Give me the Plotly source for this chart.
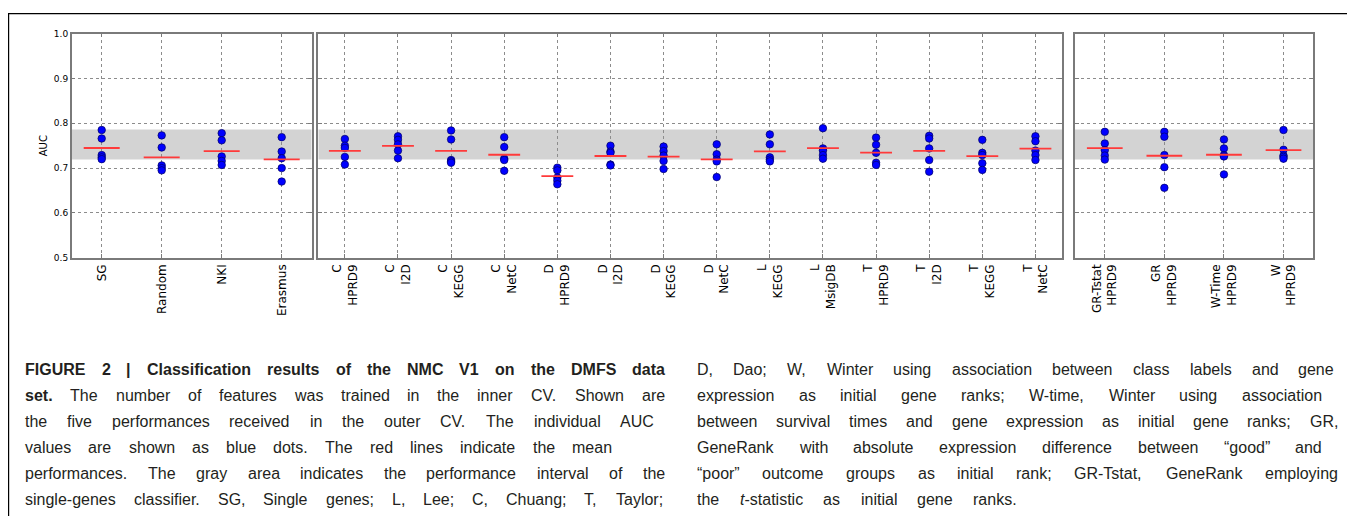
import re
import plotly.graph_objects as go

W, H = 1355, 516
OFF = 8                      # page body margin in the browser
FW, FH = W - OFF, H - OFF    # figure size


def px2x(px):
    return (px - OFF) / FW


def py2y(py):
    return 1 - (py - OFF) / FH


# ---------------- data ----------------
panel1_labels = ["SG", "Random", "NKI", "Erasmus"]
panel1_values = [
    [0.785, 0.766, 0.729, 0.724, 0.720],   # SG
    [0.773, 0.746, 0.706, 0.700, 0.695],   # Random
    [0.778, 0.762, 0.726, 0.716, 0.707],   # NKI
    [0.769, 0.737, 0.722, 0.700, 0.670],   # Erasmus
]
panel2_labels = ["C<br>HPRD9", "C<br>I2D", "C<br>KEGG", "C<br>NetC",
                 "D<br>HPRD9", "D<br>I2D", "D<br>KEGG", "D<br>NetC",
                 "L<br>KEGG", "L<br>MsigDB", "T<br>HPRD9", "T<br>I2D",
                 "T<br>KEGG", "T<br>NetC"]
panel2_values = [
    [0.765, 0.750, 0.745, 0.725, 0.708],   # C HPRD9
    [0.771, 0.763, 0.753, 0.739, 0.722],   # C I2D
    [0.784, 0.764, 0.718, 0.715, 0.712],   # C KEGG
    [0.769, 0.747, 0.721, 0.718, 0.694],   # C NetC
    [0.701, 0.695, 0.679, 0.672, 0.664],   # D HPRD9
    [0.750, 0.737, 0.734, 0.708, 0.706],   # D I2D
    [0.748, 0.738, 0.728, 0.716, 0.698],   # D KEGG
    [0.753, 0.731, 0.719, 0.715, 0.680],   # D NetC
    [0.775, 0.753, 0.724, 0.719, 0.715],   # L KEGG
    [0.789, 0.744, 0.739, 0.729, 0.721],   # L MsigDB
    [0.768, 0.752, 0.734, 0.712, 0.707],   # T HPRD9
    [0.772, 0.766, 0.744, 0.718, 0.692],   # T I2D
    [0.763, 0.734, 0.729, 0.711, 0.696],   # T KEGG
    [0.771, 0.760, 0.739, 0.729, 0.718],   # T NetC
]
panel3_labels = ["GR-Tstat<br>HPRD9", "GR<br>HPRD9", "W-Time<br>HPRD9", "W<br>HPRD9"]
panel3_values = [
    [0.781, 0.755, 0.740, 0.728, 0.719],   # GR-Tstat HPRD9
    [0.781, 0.770, 0.729, 0.702, 0.656],   # GR HPRD9
    [0.764, 0.744, 0.729, 0.726, 0.686],   # W-Time HPRD9
    [0.785, 0.741, 0.728, 0.725, 0.721],   # W HPRD9
]
single_gene_low = 0.719
single_gene_high = 0.786
y_ticks = [0.5, 0.6, 0.7, 0.8, 0.9, 1.0]

caption_left = [
    "<b>FIGURE 2 | Classification results of the NMC V1 on the DMFS data</b>",
    "<b>set.</b> The number of features was trained in the inner CV. Shown are",
    "the five performances received in the outer CV. The individual AUC",
    "values are shown as blue dots. The red lines indicate the mean",
    "performances. The gray area indicates the performance interval of the",
    "single-genes classifier. SG, Single genes; L, Lee; C, Chuang; T, Taylor;",
]
caption_right = [
    "D, Dao; W, Winter using association between class labels and gene",
    "expression as initial gene ranks; W-time, Winter using association",
    "between survival times and gene expression as initial gene ranks; GR,",
    "GeneRank with absolute expression difference between \u201cgood\u201d and",
    "\u201cpoor\u201d outcome groups as initial rank; GR-Tstat, GeneRank employing",
    "the <i>t</i>-statistic as initial gene ranks.",
]

# ---------------- layout geometry (page pixels) ----------------
panel_px = [(71.7, 311.7), (318.3, 1062.0), (1075.0, 1313.3)]
plot_top_px, plot_bottom_px = 29.0, 257.7
ydom = [py2y(plot_bottom_px), py2y(plot_top_px)]

fig = go.Figure()
panels = [(panel1_labels, panel1_values), (panel2_labels, panel2_values),
          (panel3_labels, panel3_values)]

axis_font = dict(family="DejaVu Sans, sans-serif", size=12, color="#000000")
for k, (labels, values) in enumerate(panels):
    n = len(labels)
    sfx = "" if k == 0 else str(k + 1)
    xa, ya = "x" + sfx, "y" + sfx
    fig.add_shape(type="rect", xref=xa, yref=ya, x0=-0.5, x1=n - 0.5,
                  y0=single_gene_low, y1=single_gene_high,
                  fillcolor="#d3d3d3", line=dict(width=0), layer="below")
    xs, ys = [], []
    for i, vals in enumerate(values):
        xs += [i] * len(vals)
        ys += vals
    fig.add_trace(go.Scatter(x=xs, y=ys, mode="markers", xaxis=xa, yaxis=ya,
                             marker=dict(color="#0000ff", size=7.5,
                                         line=dict(color="#000060", width=0.7)),
                             showlegend=False, hoverinfo="skip"))
    lx, ly = [], []
    for i, vals in enumerate(values):
        m = sum(vals) / len(vals)
        lx += [i - 0.3, i + 0.3, None]
        ly += [m, m, None]
    fig.add_trace(go.Scatter(x=lx, y=ly, mode="lines", xaxis=xa, yaxis=ya,
                             line=dict(color="#ff3a3a", width=1.8),
                             showlegend=False, hoverinfo="skip"))
    x0, x1 = panel_px[k]
    fig.layout["xaxis" + sfx] = dict(
        domain=[px2x(x0), px2x(x1)], anchor=ya, range=[-0.5, n - 0.5],
        tickmode="array", tickvals=list(range(n)), ticktext=labels,
        tickangle=-90, tickfont=axis_font,
        showgrid=True, gridcolor="#8c8c8c", griddash="dot", gridwidth=1,
        showline=True, mirror="ticks", linecolor="#7a7a7a", linewidth=1.5,
        ticks="inside", ticklen=4, tickcolor="#7a7a7a", zeroline=False,
        fixedrange=True)
    fig.layout["yaxis" + sfx] = dict(
        domain=ydom, anchor=xa, range=[0.5, 1.0],
        tickmode="array", tickvals=y_ticks,
        ticktext=["%.1f" % v for v in y_ticks],
        showticklabels=(k == 0),
        tickfont=dict(family="DejaVu Sans, sans-serif", size=9, color="#000000"),
        showgrid=True, gridcolor="#8c8c8c", griddash="dot", gridwidth=1,
        showline=True, mirror="ticks", linecolor="#7a7a7a", linewidth=1.5,
        ticks="inside", ticklen=4, tickcolor="#7a7a7a", zeroline=False,
        fixedrange=True)

fig.layout.yaxis.title = dict(text="AUC", standoff=4,
                              font=dict(family="DejaVu Sans, sans-serif",
                                        size=10, color="#000000"))

# ---------------- caption (justified words) ----------------
REG = {' ': 278, ',': 278, '-': 333, '.': 278, ';': 278, ':': 278, '|': 260,
       '\u201c': 333, '\u201d': 333, '(': 333, ')': 333}
REG.update({d: 556 for d in "0123456789"})
REG.update(dict(zip("ABCDEFGHIJKLMNOPQRSTUVWXYZ",
                    [667, 667, 722, 722, 667, 611, 778, 722, 278, 500, 667, 556, 833,
                     722, 778, 667, 778, 722, 667, 611, 722, 667, 944, 667, 667, 611])))
REG.update(dict(zip("abcdefghijklmnopqrstuvwxyz",
                    [556, 556, 500, 556, 556, 278, 556, 556, 222, 222, 500, 222, 833,
                     556, 556, 556, 556, 333, 500, 278, 556, 500, 722, 500, 500, 500])))
BOLD = {' ': 278, ',': 278, '-': 333, '.': 278, ';': 333, ':': 333, '|': 280,
        '\u201c': 500, '\u201d': 500}
BOLD.update({d: 556 for d in "0123456789"})
BOLD.update(dict(zip("ABCDEFGHIJKLMNOPQRSTUVWXYZ",
                     [722, 722, 722, 722, 667, 611, 778, 722, 278, 556, 722, 611, 833,
                      722, 778, 667, 778, 722, 667, 611, 722, 667, 944, 667, 667, 611])))
BOLD.update(dict(zip("abcdefghijklmnopqrstuvwxyz",
                     [556, 611, 556, 611, 556, 333, 611, 611, 278, 278, 556, 278, 889,
                      611, 611, 611, 611, 389, 556, 333, 611, 556, 778, 556, 556, 500])))

CAP_SIZE = 16
CAP_FONT = "Liberation Sans, Arial, Helvetica, sans-serif"


def word_w(text, bold):
    tab = BOLD if bold else REG
    return sum(tab.get(c, 556) for c in text) * CAP_SIZE / 1000.0


def add_caption(lines, x_start, ends, y_first, dy):
    for li, line in enumerate(lines):
        bold = False
        words = []
        for tok in line.split(" "):
            if tok.startswith("<b>"):
                bold = True
            plain = re.sub(r"</?[bi]>", "", tok)
            shown = re.sub(r"</?b>", "", tok)
            words.append((plain, ("<b>%s</b>" % shown) if bold else shown, bold))
            if tok.endswith("</b>"):
                bold = False
        widths = [word_w(p, b) for p, _, b in words]
        gap = (ends[li] - x_start - sum(widths)) / max(len(words) - 1, 1)
        x = x_start
        y = y_first + li * dy
        for (p, shown, b), w in zip(words, widths):
            fig.add_annotation(x=px2x(x), y=py2y(y), xref="paper", yref="paper",
                               text=shown, showarrow=False, xanchor="left",
                               yanchor="middle", borderpad=0, borderwidth=0,
                               font=dict(family=CAP_FONT, size=CAP_SIZE,
                                         color="#231f20"))
            x += w + gap


add_caption(caption_left, 25, [665, 665, 654, 612, 665, 665], 371.5, 26.5)
add_caption(caption_right, 697, [1334, 1322, 1338, 1322, 1338, 1017], 371.5, 26.5)

# outer frame
fig.add_shape(type="rect", xref="paper", yref="paper", x0=0.6 / FW, x1=px2x(1353),
              y0=-0.05, y1=py2y(8.6), line=dict(color="#000000", width=1.2),
              fillcolor="rgba(0,0,0,0)", layer="above")

fig.update_layout(width=FW, height=FH, margin=dict(l=0, r=0, t=0, b=0),
                  paper_bgcolor="white", plot_bgcolor="white", showlegend=False)

fig.write_html("out.html")
